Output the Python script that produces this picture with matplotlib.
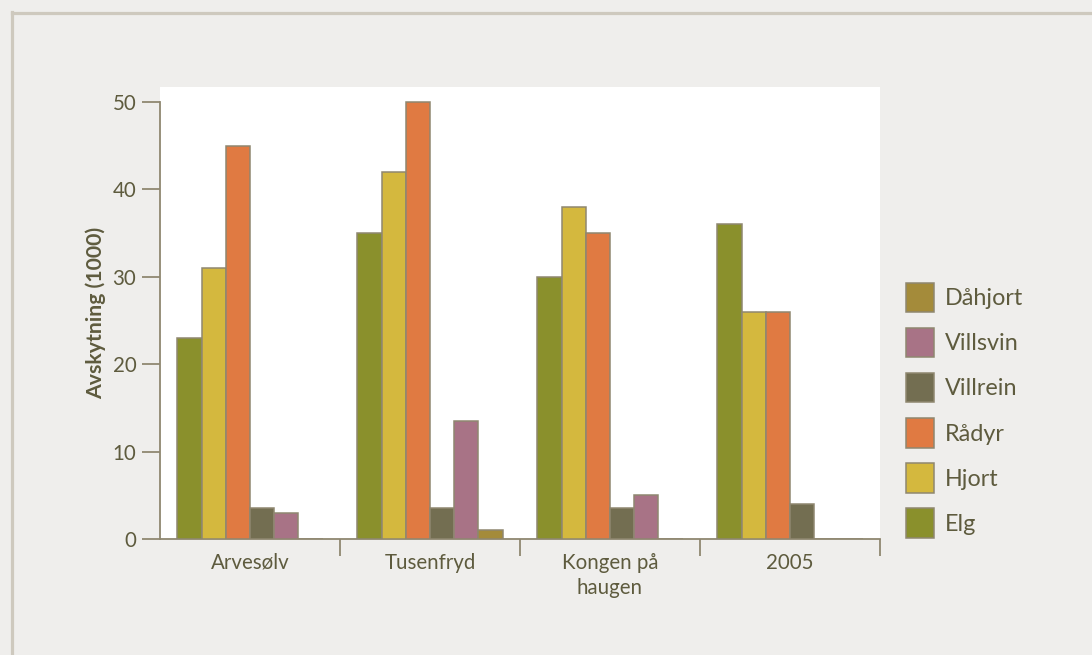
import matplotlib
matplotlib.use("Agg")
import matplotlib.pyplot as plt
import numpy as np
from matplotlib.patches import Patch
from matplotlib.lines import Line2D

categories = ["Arvesølv", "Tusenfryd", "Kongen på\nhaugen", "2005"]
species = ["Elg", "Hjort", "Rådyr", "Villrein", "Villsvin", "Dåhjort"]
elg = [23, 35, 30, 36]
hjort = [31, 42, 38, 26]
radyr = [45, 50, 35, 26]
villrein = [3.5, 3.5, 3.5, 4]
villsvin = [3, 13.5, 5, 0]
dahjort = [0, 1, 0, 0]
series = [elg, hjort, radyr, villrein, villsvin, dahjort]
colors = ["#8A902C", "#D4B83E", "#E07A42", "#736E51", "#A87386", "#A48B3A"]
yticks = [0, 10, 20, 30, 40, 50]

TEXT = "#5E5B3E"
EDGE = "#8F8770"
BG = "#EFEEEC"
FONT = "Lato"

plt.rcParams["font.family"] = [FONT, "DejaVu Sans"]

fig = plt.figure(figsize=(10.92, 6.55), dpi=100, facecolor=BG)
W, H = 1092, 655
ax = fig.add_axes([160 / W, 1 - 539 / H, 720 / W, (539 - 87) / H])
ax.set_facecolor("white")

# frame lines (left and top)
fig.add_artist(Line2D([11.5 / W, 11.5 / W], [0, 1 - 11.5 / H], transform=fig.transFigure,
                      color="#CEC9BE", lw=2.3))
fig.add_artist(Line2D([11.5 / W, 1], [1 - 12.8 / H, 1 - 12.8 / H], transform=fig.transFigure,
                      color="#CEC9BE", lw=2.3))

x = np.arange(len(categories))
w = 0.1347
handles = []
for i, (vals, name, c) in enumerate(zip(series, species, colors)):
    ax.bar(x + (i - 2.5) * w, vals, width=w, color=c, edgecolor=EDGE, linewidth=1.1, zorder=3)
    handles.append(Patch(facecolor=c, edgecolor=EDGE, linewidth=1.1, label=name))

ax.set_xlim(-0.5, 3.5)
ax.set_ylim(0, 51.7)

for s in ["top", "right"]:
    ax.spines[s].set_visible(False)
for s in ["left", "bottom"]:
    ax.spines[s].set_color(EDGE)
    ax.spines[s].set_linewidth(1.3)
ax.spines["left"].set_bounds(0, 50)

ax.set_yticks(yticks)
ax.set_yticklabels([str(t) for t in yticks])
ax.tick_params(axis="y", direction="out", length=13, width=1.3, color=EDGE, pad=4,
               labelsize=14.8, labelcolor=TEXT)

ax.set_xticks(x)
ax.set_xticklabels(categories, linespacing=1.35)
ax.tick_params(axis="x", which="major", length=0, pad=10, labelsize=14.8, labelcolor=TEXT)
ax.set_xticks(np.arange(0.5, 4.0, 1.0), minor=True)
ax.tick_params(axis="x", which="minor", direction="out", length=12, width=1.3, color=EDGE)

ax.set_ylabel("Avskytning (1000)", fontsize=15.3, fontweight="bold", color=TEXT, labelpad=5)

leg = fig.legend(handles=handles[::-1], loc="upper left",
                 bbox_to_anchor=(906 / W, 1 - 283 / H), bbox_transform=fig.transFigure,
                 frameon=False, fontsize=16.8, borderpad=0, borderaxespad=0,
                 handlelength=1.2, handleheight=1.55, handletextpad=0.45, labelspacing=0.68)
for t in leg.get_texts():
    t.set_color(TEXT)

fig.savefig("out.png", dpi=100, facecolor=BG)
